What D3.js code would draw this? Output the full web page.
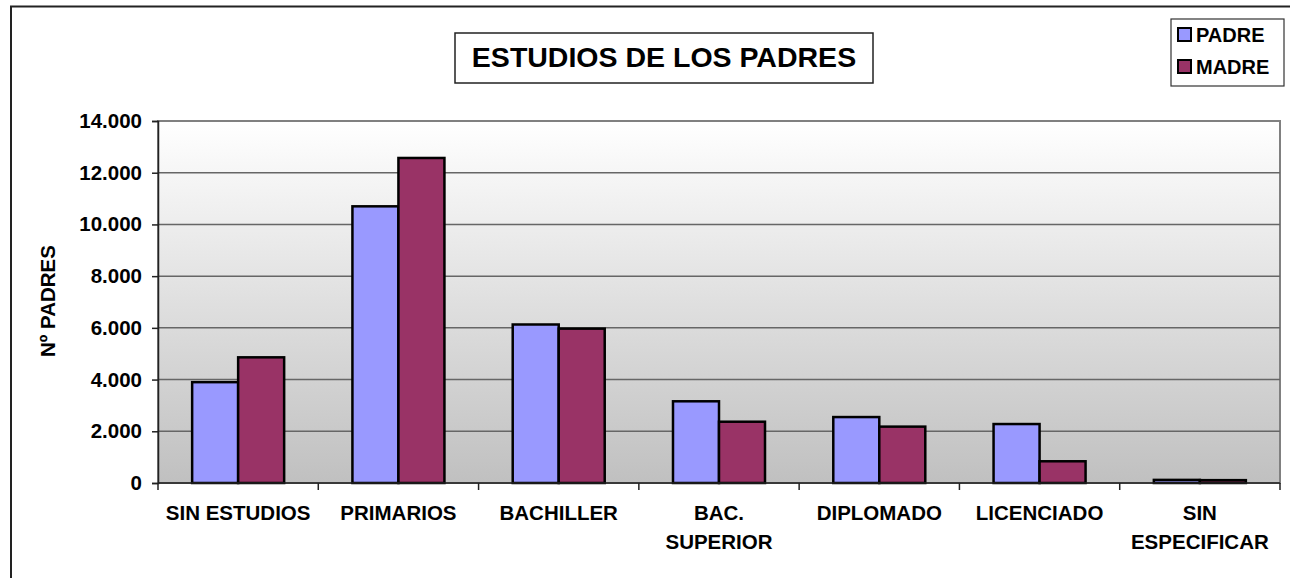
<!DOCTYPE html>
<html>
<head>
<meta charset="utf-8">
<script src="https://cdn.jsdelivr.net/npm/d3@7"></script>
<style>
  body { margin: 0; background: #fff; }
  svg text { font-family: "Liberation Sans", Arial, sans-serif; font-weight: bold; fill: #000; }
</style>
</head>
<body>
<div id="chart"></div>
<script>
const categories = [["SIN ESTUDIOS"], ["PRIMARIOS"], ["BACHILLER"], ["BAC.", "SUPERIOR"], ["DIPLOMADO"], ["LICENCIADO"], ["SIN", "ESPECIFICAR"]];
const series = ["PADRE", "MADRE"];
const padre = [3900, 10700, 6130, 3160, 2550, 2280, 120];
const madre = [4860, 12570, 5970, 2370, 2180, 840, 110];
const yTicks = [0, 2000, 4000, 6000, 8000, 10000, 12000, 14000];
const colors = ["#9999ff", "#993366"];

const width = 1290, height = 578;
const m = { left: 158, right: 1280, top: 121, bottom: 483 };

const svg = d3.select("#chart").append("svg")
    .attr("width", width)
    .attr("height", height);

// outer frame
svg.append("rect")
    .attr("x", 11).attr("y", 6.5)
    .attr("width", width).attr("height", height)
    .attr("fill", "none").attr("stroke", "#222").attr("stroke-width", 2);

const defs = svg.append("defs");
const grad = defs.append("linearGradient")
    .attr("id", "bg").attr("x1", 0).attr("y1", 0).attr("x2", 0).attr("y2", 1);
grad.append("stop").attr("offset", "0%").attr("stop-color", "#ffffff");
grad.append("stop").attr("offset", "100%").attr("stop-color", "#c0c0c0");

const idx = d3.range(categories.length);
const x0 = d3.scaleBand().domain(idx).range([m.left, m.right])
    .paddingInner(0.426).paddingOuter(0.213);
const x1 = d3.scaleBand().domain(series).range([0, x0.bandwidth()]);
const y = d3.scaleLinear().domain([0, 14000]).range([m.bottom, m.top]);

// plot area
svg.append("rect")
    .attr("x", m.left).attr("y", m.top)
    .attr("width", m.right - m.left).attr("height", m.bottom - m.top)
    .attr("fill", "url(#bg)")
    .attr("stroke", "#808080").attr("stroke-width", 2);

// grid
svg.append("g").selectAll("line")
    .data(yTicks.filter(d => d > 0 && d < 14000))
    .join("line")
    .attr("x1", m.left).attr("x2", m.right)
    .attr("y1", d => y(d)).attr("y2", d => y(d))
    .attr("stroke", "#666").attr("stroke-width", 1.5);

// bars
const groups = svg.append("g").selectAll("g")
    .data(idx)
    .join("g")
    .attr("transform", i => `translate(${x0(i)},0)`);

groups.selectAll("rect")
    .data(i => [{ s: "PADRE", v: padre[i], c: colors[0] }, { s: "MADRE", v: madre[i], c: colors[1] }])
    .join("rect")
    .attr("x", d => x1(d.s))
    .attr("y", d => y(d.v))
    .attr("width", x1.bandwidth())
    .attr("height", d => y(0) - y(d.v))
    .attr("fill", d => d.c)
    .attr("stroke", "#000").attr("stroke-width", 2.5);

// y axis
const yAxis = svg.append("g")
    .attr("transform", `translate(${m.left},0)`)
    .call(d3.axisLeft(y).tickValues(yTicks).tickSize(6).tickPadding(10)
        .tickFormat(d => d3.format(",")(d).replace(/,/g, ".")));
yAxis.select(".domain").attr("stroke", "#222").attr("stroke-width", 1.5);
yAxis.selectAll(".tick line").attr("stroke", "#222").attr("stroke-width", 1.5);
yAxis.selectAll("text").attr("font-size", 20.5).attr("font-family", null).attr("fill", "#000");

// x axis
const xTickPos = d3.range(categories.length + 1).map(i => m.left + i * x0.step());
const xAxis = svg.append("g");
xAxis.append("line")
    .attr("x1", m.left).attr("x2", m.right)
    .attr("y1", m.bottom).attr("y2", m.bottom)
    .attr("stroke", "#222").attr("stroke-width", 1.5);
xAxis.selectAll("line.tk")
    .data(xTickPos)
    .join("line")
    .attr("class", "tk")
    .attr("x1", d => d).attr("x2", d => d)
    .attr("y1", m.bottom).attr("y2", m.bottom + 7)
    .attr("stroke", "#222").attr("stroke-width", 1.5);

xAxis.selectAll("text")
    .data(idx)
    .join("text")
    .attr("x", i => x0(i) + x0.bandwidth() / 2)
    .attr("y", 520)
    .attr("text-anchor", "middle")
    .attr("font-size", 20.5)
    .selectAll("tspan")
    .data(i => categories[i])
    .join("tspan")
    .attr("x", function () { return this.parentNode.getAttribute("x"); })
    .attr("dy", (d, j) => j === 0 ? 0 : 29)
    .text(d => d);

// y axis title
svg.append("text")
    .attr("transform", "translate(55,301) rotate(-90)")
    .attr("text-anchor", "middle")
    .attr("font-size", 20.5)
    .text("Nº PADRES");

// title
svg.append("rect")
    .attr("x", 455).attr("y", 33)
    .attr("width", 418).attr("height", 50)
    .attr("fill", "#fff").attr("stroke", "#222").attr("stroke-width", 1.5);
svg.append("text")
    .attr("x", 664).attr("y", 67)
    .attr("text-anchor", "middle")
    .attr("font-size", 28.5)
    .text("ESTUDIOS DE LOS PADRES");

// legend
const lg = svg.append("g");
lg.append("rect")
    .attr("x", 1171).attr("y", 19)
    .attr("width", 113).attr("height", 67)
    .attr("fill", "#fff").attr("stroke", "#333").attr("stroke-width", 1.2);
const li = lg.selectAll("g.item")
    .data(series)
    .join("g")
    .attr("class", "item")
    .attr("transform", (d, i) => `translate(1178,${28 + i * 32})`);
li.append("rect")
    .attr("width", 13).attr("height", 13)
    .attr("fill", (d, i) => colors[i])
    .attr("stroke", "#000").attr("stroke-width", 2);
li.append("text")
    .attr("x", 18).attr("y", 14)
    .attr("font-size", 20)
    .text(d => d);
</script>
</body>
</html>
